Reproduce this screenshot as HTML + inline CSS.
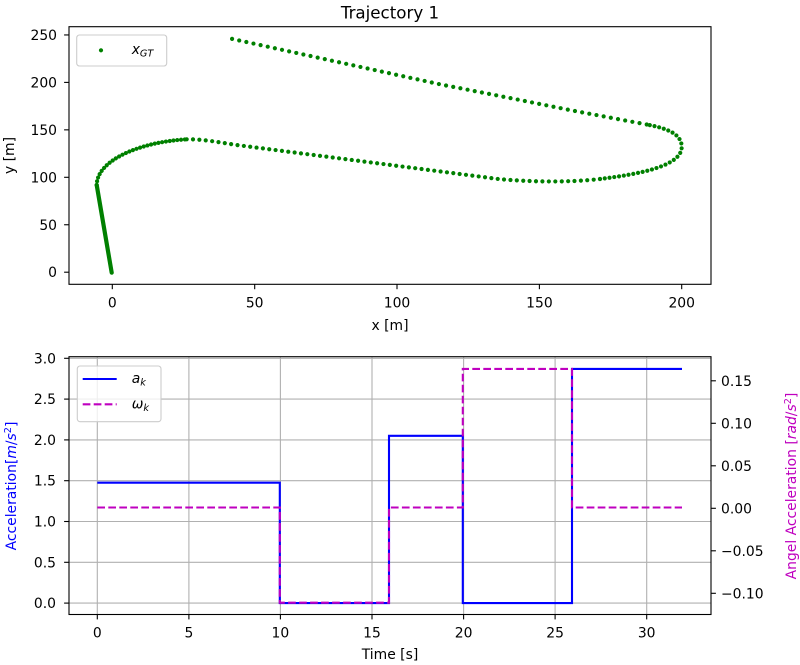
<!DOCTYPE html>
<html>
<head>
<meta charset="utf-8">
<style>
  html, body { margin: 0; padding: 0; background: #ffffff; }
  svg { display: block; }
  text { font-family: "DejaVu Sans", "Liberation Sans", sans-serif; fill: #000; }
</style>
</head>
<body>
<svg width="800" height="665" viewBox="0 0 800 665" xmlns="http://www.w3.org/2000/svg">
  <rect x="0" y="0" width="800" height="665" fill="#ffffff"/>

  <!-- ================= TOP PLOT ================= -->
  <text x="390" y="18.5" font-size="16.7" text-anchor="middle">Trajectory 1</text>

  <!-- trajectory -->
  <g fill="none" stroke="#008000" stroke-linecap="round" stroke-width="4.2">
    <path d="M111.7,272.7 L96.7,185"/>
    <path d="M96.7,185 C97,160 140,142 186.7,139.3" stroke-dasharray="0 3.8"/>
    <path d="M186.7,139.3 C200,139 215,141.5 236.7,145 L498.3,179 C530,182 570,182.5 600,179" stroke-dasharray="0 6.4"/>
    <path d="M600,179 C640,174 682,166 681.7,146.7 C681.5,133 665,128 646.7,124.5" stroke-dasharray="0 4.8"/>
    <path d="M646.7,124.5 L573.3,110.7 L498.3,95.7 L440,84.3 L229.3,38.3" stroke-dasharray="0 7.3"/>
  </g>

  <!-- frame -->
  <rect x="69" y="26.7" width="642" height="257.6" fill="none" stroke="#000" stroke-width="1.1"/>

  <!-- x ticks -->
  <g stroke="#000" stroke-width="1.1">
    <line x1="112.3" y1="284.3" x2="112.3" y2="289.2"/>
    <line x1="254.7" y1="284.3" x2="254.7" y2="289.2"/>
    <line x1="397" y1="284.3" x2="397" y2="289.2"/>
    <line x1="539.4" y1="284.3" x2="539.4" y2="289.2"/>
    <line x1="681.7" y1="284.3" x2="681.7" y2="289.2"/>
    <!-- y ticks -->
    <line x1="64.1" y1="272.2" x2="69" y2="272.2"/>
    <line x1="64.1" y1="224.75" x2="69" y2="224.75"/>
    <line x1="64.1" y1="177.3" x2="69" y2="177.3"/>
    <line x1="64.1" y1="129.85" x2="69" y2="129.85"/>
    <line x1="64.1" y1="82.4" x2="69" y2="82.4"/>
    <line x1="64.1" y1="34.95" x2="69" y2="34.95"/>
  </g>
  <g font-size="13.9" text-anchor="middle">
    <text x="112.3" y="307.5">0</text>
    <text x="254.7" y="307.5">50</text>
    <text x="397" y="307.5">100</text>
    <text x="539.4" y="307.5">150</text>
    <text x="681.7" y="307.5">200</text>
  </g>
  <g font-size="13.9" text-anchor="end">
    <text x="57" y="277.2">0</text>
    <text x="57" y="229.75">50</text>
    <text x="57" y="182.3">100</text>
    <text x="57" y="134.85">150</text>
    <text x="57" y="87.4">200</text>
    <text x="57" y="39.95">250</text>
  </g>
  <text x="390" y="330" font-size="13.9" text-anchor="middle">x [m]</text>
  <text transform="translate(14,155.5) rotate(-90)" font-size="13.9" text-anchor="middle">y [m]</text>

  <!-- top legend -->
  <rect x="76.7" y="35" width="90" height="31" rx="2.8" ry="2.8" fill="#ffffff" fill-opacity="0.8" stroke="#cccccc" stroke-width="1.1"/>
  <circle cx="101" cy="50.3" r="2.1" fill="#008000"/>
  <text x="131.7" y="54" font-size="13.9"><tspan font-style="italic">x</tspan><tspan font-style="italic" font-size="9.7" dy="2.6">GT</tspan></text>

  <!-- ================= BOTTOM PLOT ================= -->
  <!-- grid -->
  <g stroke="#b0b0b0" stroke-width="1.1">
    <line x1="97.3" y1="356.7" x2="97.3" y2="614.5"/>
    <line x1="188.9" y1="356.7" x2="188.9" y2="614.5"/>
    <line x1="280.4" y1="356.7" x2="280.4" y2="614.5"/>
    <line x1="372" y1="356.7" x2="372" y2="614.5"/>
    <line x1="463.6" y1="356.7" x2="463.6" y2="614.5"/>
    <line x1="555.1" y1="356.7" x2="555.1" y2="614.5"/>
    <line x1="646.7" y1="356.7" x2="646.7" y2="614.5"/>
    <line x1="69" y1="603.1" x2="711" y2="603.1"/>
    <line x1="69" y1="562.3" x2="711" y2="562.3"/>
    <line x1="69" y1="521.5" x2="711" y2="521.5"/>
    <line x1="69" y1="480.7" x2="711" y2="480.7"/>
    <line x1="69" y1="439.9" x2="711" y2="439.9"/>
    <line x1="69" y1="399.1" x2="711" y2="399.1"/>
    <line x1="69" y1="358.3" x2="711" y2="358.3"/>
  </g>

  <!-- a_k (blue) -->
  <path d="M97.3,482.7 H279.8 V603.1 H389 V435.8 H462.8 V603.1 H572 V368.9 H682" fill="none" stroke="#0000ff" stroke-width="2.1"/>
  <!-- omega_k (magenta dashed) -->
  <path d="M97.3,507.5 H279.8 V602.7 H389 V507.5 H462.8 V368.9 H572 V507.5 H682" fill="none" stroke="#bf00bf" stroke-width="2.1" stroke-dasharray="7.7 3.3"/>

  <!-- frame -->
  <rect x="69" y="356.7" width="642" height="257.8" fill="none" stroke="#000" stroke-width="1.1"/>

  <!-- ticks -->
  <g stroke="#000" stroke-width="1.1">
    <line x1="97.3" y1="614.5" x2="97.3" y2="619.4"/>
    <line x1="188.9" y1="614.5" x2="188.9" y2="619.4"/>
    <line x1="280.4" y1="614.5" x2="280.4" y2="619.4"/>
    <line x1="372" y1="614.5" x2="372" y2="619.4"/>
    <line x1="463.6" y1="614.5" x2="463.6" y2="619.4"/>
    <line x1="555.1" y1="614.5" x2="555.1" y2="619.4"/>
    <line x1="646.7" y1="614.5" x2="646.7" y2="619.4"/>

    <line x1="64.1" y1="603.1" x2="69" y2="603.1"/>
    <line x1="64.1" y1="562.3" x2="69" y2="562.3"/>
    <line x1="64.1" y1="521.5" x2="69" y2="521.5"/>
    <line x1="64.1" y1="480.7" x2="69" y2="480.7"/>
    <line x1="64.1" y1="439.9" x2="69" y2="439.9"/>
    <line x1="64.1" y1="399.1" x2="69" y2="399.1"/>
    <line x1="64.1" y1="358.3" x2="69" y2="358.3"/>

    <line x1="711" y1="593.3" x2="715.9" y2="593.3"/>
    <line x1="711" y1="550.8" x2="715.9" y2="550.8"/>
    <line x1="711" y1="508.3" x2="715.9" y2="508.3"/>
    <line x1="711" y1="465.8" x2="715.9" y2="465.8"/>
    <line x1="711" y1="423.3" x2="715.9" y2="423.3"/>
    <line x1="711" y1="380.8" x2="715.9" y2="380.8"/>
  </g>

  <g font-size="13.9" text-anchor="middle">
    <text x="97.3" y="637.3">0</text>
    <text x="188.9" y="637.3">5</text>
    <text x="280.4" y="637.3">10</text>
    <text x="372" y="637.3">15</text>
    <text x="463.6" y="637.3">20</text>
    <text x="555.1" y="637.3">25</text>
    <text x="646.7" y="637.3">30</text>
  </g>
  <g font-size="13.9" text-anchor="end">
    <text x="56" y="608.1">0.0</text>
    <text x="56" y="567.3">0.5</text>
    <text x="56" y="526.5">1.0</text>
    <text x="56" y="485.7">1.5</text>
    <text x="56" y="444.9">2.0</text>
    <text x="56" y="404.1">2.5</text>
    <text x="56" y="363.3">3.0</text>
  </g>
  <g font-size="13.9" text-anchor="start">
    <text x="721" y="598.3">−0.10</text>
    <text x="721" y="555.8">−0.05</text>
    <text x="721" y="513.3">0.00</text>
    <text x="721" y="470.8">0.05</text>
    <text x="721" y="428.3">0.10</text>
    <text x="721" y="385.8">0.15</text>
  </g>

  <text x="390" y="659" font-size="13.9" text-anchor="middle">Time [s]</text>

  <text transform="translate(16,486) rotate(-90)" font-size="13.9" text-anchor="middle" style="fill:#0000ff">Acceleration[<tspan font-style="italic" style="fill:#0000ff">m</tspan>/<tspan font-style="italic" style="fill:#0000ff">s</tspan><tspan font-size="9.7" dy="-5" style="fill:#0000ff">2</tspan><tspan dy="5" style="fill:#0000ff">]</tspan></text>

  <text transform="translate(796,486) rotate(-90)" font-size="13.9" text-anchor="middle" style="fill:#bf00bf">Angel Acceleration [<tspan font-style="italic" style="fill:#bf00bf">rad</tspan>/<tspan font-style="italic" style="fill:#bf00bf">s</tspan><tspan font-size="9.7" dy="-5" style="fill:#bf00bf">2</tspan><tspan dy="5" style="fill:#bf00bf">]</tspan></text>

  <!-- bottom legend -->
  <rect x="77.3" y="366" width="83.7" height="55.7" rx="2.8" ry="2.8" fill="#ffffff" fill-opacity="0.8" stroke="#cccccc" stroke-width="1.1"/>
  <line x1="82.7" y1="379" x2="116.7" y2="379" stroke="#0000ff" stroke-width="2.1"/>
  <line x1="82.7" y1="404.3" x2="116.7" y2="404.3" stroke="#bf00bf" stroke-width="2.1" stroke-dasharray="7.7 3.3"/>
  <text x="131.7" y="383" font-size="13.9"><tspan font-style="italic">a</tspan><tspan font-style="italic" font-size="9.7" dy="2.6">k</tspan></text>
  <text x="131.7" y="408.3" font-size="13.9"><tspan font-style="italic">ω</tspan><tspan font-style="italic" font-size="9.7" dy="2.6">k</tspan></text>
</svg>
</body>
</html>
